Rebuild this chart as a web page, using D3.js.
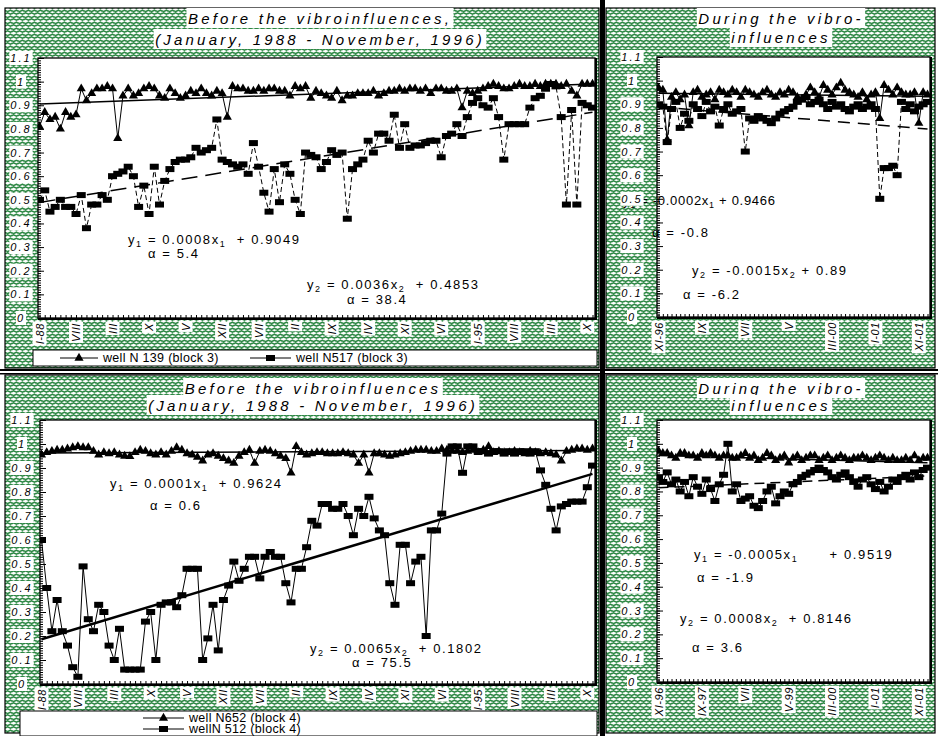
<!DOCTYPE html>
<html>
<head>
<meta charset="utf-8">
<script src="https://cdnjs.cloudflare.com/ajax/libs/d3/7.8.5/d3.min.js"></script>
<style>
  body { margin: 0; background: #fff; }
  svg { display: block; }
  text { font-family: "Liberation Sans", Arial, sans-serif; fill: #000; white-space: pre; }
</style>
</head>
<body>
<svg id="chart" width="938" height="736"></svg>
<script>
// ---------- data ----------
const yTickValues = [0, 0.1, 0.2, 0.3, 0.4, 0.5, 0.6, 0.7, 0.8, 0.9, 1, 1.1];
const yTickLabels = ["0", "0.1", "0.2", "0.3", "0.4", "0.5", "0.6", "0.7", "0.8", "0.9", "1", "1.1"];

// monthly, January 1988 - November 1996 (label every 7 months)
const monthLabelsBefore = ["I-88", "VIII", "III", "X", "V", "XII", "VII", "II", "IX", "IV", "XI", "VI", "I-95", "VIII", "III", "X"];
// monthly, November 1996 onwards (label every 10 months)
const monthLabelsDuringTop = ["XI-96", "IX", "VII", "V", "III-00", "I-01", "XI-01"];
const monthLabelsDuringBottom = ["XI-96", "IX-97", "VII", "V-99", "III-00", "I-01", "XI-01"];

const legendBlock3 = ["well N 139 (block 3)", "well N517 (block 3)"];
const legendBlock4 = ["well N652 (block 4)", "wellN 512 (block 4)"];

const titleBeforeTop = ["Before the vibroinfluences,", "(January, 1988 - November, 1996)"];
const titleBeforeBottom = ["Before the vibroinfluences", "(January, 1988 - November, 1996)"];
const titleDuring = ["During the vibro-", "influences"];

// well N 139, block 3, before
const well139Before = [
  0.81,0.87,0.84,0.85,0.80,0.87,0.85,0.86,0.97,0.92,
  0.95,0.97,0.97,0.98,0.97,0.76,0.94,0.97,0.94,0.95,
  0.97,0.98,0.97,0.94,0.93,0.97,0.95,0.93,0.94,0.96,
  0.95,0.97,0.95,0.94,0.96,0.95,0.85,0.98,0.97,0.97,
  0.96,0.96,0.97,0.96,0.97,0.97,0.96,0.96,0.94,0.98,
  0.97,0.98,0.93,0.96,0.95,0.94,0.93,0.96,0.92,0.94,
  0.94,0.95,0.95,0.95,0.96,0.94,0.95,0.96,0.96,0.97,
  0.96,0.97,0.97,0.96,0.97,0.95,0.97,0.97,0.96,0.96,
  0.97,0.89,0.96,0.95,0.96,0.97,0.98,0.99,0.98,0.97,
  0.97,0.98,0.99,0.98,0.98,0.99,0.98,0.99,0.99,0.99,
  0.98,0.99,0.96,0.94,0.99,0.99,0.99
];
// well N517, block 3, before
const well517Before = [
  0.50,0.54,0.45,0.47,0.50,0.47,0.47,0.44,0.52,0.38,
  0.48,0.48,0.52,0.50,0.60,0.61,0.62,0.64,0.60,0.47,
  0.56,0.44,0.64,0.48,0.58,0.63,0.66,0.67,0.67,0.68,
  0.72,0.70,0.71,0.72,0.84,0.67,0.66,0.65,0.64,0.65,
  0.61,0.74,0.64,0.53,0.45,0.63,0.49,0.65,0.61,0.50,
  0.44,0.70,0.69,0.68,0.63,0.66,0.71,0.69,0.70,0.42,
  0.63,0.65,0.67,0.75,0.70,0.78,0.78,0.75,0.86,0.72,
  0.82,0.72,0.73,0.73,0.74,0.75,0.75,0.68,0.77,0.78,
  0.82,0.77,0.85,0.91,0.93,0.90,0.89,0.93,0.85,0.67,
  0.82,0.82,0.82,0.82,0.89,0.93,0.94,0.97,0.99,0.98,
  0.85,0.48,0.88,0.48,0.91,0.90,0.89
];
// well N652, block 4, before
const well652Before = [
  0.955,0.965,0.97,0.975,0.975,0.98,0.985,0.99,0.985,0.985,
  0.97,0.955,0.965,0.96,0.965,0.955,0.95,0.948,0.965,0.975,
  0.97,0.96,0.955,0.965,0.955,0.97,0.985,0.975,0.96,0.955,
  0.945,0.93,0.955,0.96,0.95,0.94,0.93,0.92,0.95,0.965,
  0.975,0.92,0.97,0.975,0.97,0.96,0.95,0.94,0.88,0.99,
  0.965,0.955,0.96,0.965,0.965,0.96,0.96,0.96,0.965,0.96,
  0.955,0.92,0.955,0.88,0.96,0.96,0.955,0.95,0.955,0.96,
  0.965,0.97,0.975,0.975,0.975,0.97,0.97,0.98,0.975,0.97,
  0.97,0.965,0.97,0.975,0.965,0.975,0.99,0.965,0.97,0.965,
  0.965,0.97,0.965,0.96,0.97,0.965,0.96,0.965,0.96,0.955,
  0.93,0.97,0.975,0.98,0.98,0.975,0.98
];
// well N 512, block 4, before
const well512Before = [
  0.60,0.40,0.22,0.35,0.22,0.16,0.07,0.03,0.49,0.27,
  0.22,0.33,0.30,0.16,0.10,0.23,0.06,0.06,0.06,0.06,
  0.26,0.30,0.10,0.33,0.34,0.34,0.32,0.37,0.48,0.48,
  0.48,0.10,0.19,0.33,0.14,0.35,0.41,0.51,0.43,0.48,
  0.53,0.53,0.44,0.53,0.55,0.53,0.53,0.42,0.34,0.48,
  0.48,0.57,0.68,0.66,0.75,0.75,0.73,0.73,0.75,0.70,
  0.62,0.73,0.70,0.78,0.69,0.64,0.62,0.42,0.33,0.58,
  0.58,0.42,0.51,0.53,0.20,0.64,0.64,0.71,0.96,0.99,
  0.99,0.88,0.99,0.99,0.97,0.97,0.96,0.97,0.97,0.96,
  0.97,0.96,0.97,0.97,0.96,0.97,0.89,0.83,0.73,0.64,
  0.74,0.75,0.76,0.76,0.76,0.82,0.91
];
// well N 139, block 3, during
const well139During = [
  0.97,0.96,0.75,0.93,0.95,0.92,0.94,0.81,0.95,0.96,
  0.93,0.94,0.95,0.92,0.96,0.95,0.94,0.96,0.95,0.93,
  0.96,0.95,0.94,0.93,0.95,0.96,0.94,0.93,0.95,0.94,
  0.96,0.95,0.93,0.92,0.94,0.97,0.95,0.93,0.98,0.96,
  0.94,0.97,0.99,0.96,0.95,0.94,0.93,0.95,0.92,0.94,
  0.95,0.84,0.98,0.96,0.94,0.97,0.95,0.94,0.94,0.95,
  0.82,0.95,0.94
];
// well N517, block 3, during
const well517During = [
  0.90,0.89,0.74,0.88,0.91,0.80,0.86,0.83,0.90,0.88,
  0.85,0.91,0.87,0.89,0.81,0.88,0.90,0.86,0.87,0.88,
  0.70,0.84,0.83,0.85,0.84,0.83,0.82,0.84,0.86,0.87,
  0.88,0.89,0.91,0.92,0.93,0.90,0.91,0.92,0.90,0.88,
  0.91,0.89,0.90,0.88,0.87,0.89,0.90,0.88,0.89,0.90,
  0.88,0.50,0.63,0.63,0.64,0.60,0.91,0.88,0.90,0.87,
  0.89,0.90,0.91
];
// well N652, block 4, during
const well652During = [
  0.97,0.96,0.96,0.95,0.94,0.96,0.96,0.95,0.95,0.94,
  0.96,0.95,0.96,0.95,0.94,0.95,0.95,0.94,0.94,0.95,
  0.96,0.94,0.95,0.93,0.94,0.96,0.95,0.93,0.94,0.95,
  0.92,0.94,0.95,0.93,0.94,0.95,0.95,0.93,0.94,0.95,
  0.93,0.94,0.95,0.94,0.93,0.94,0.94,0.95,0.94,0.93,
  0.94,0.95,0.94,0.93,0.94,0.93,0.93,0.94,0.93,0.95,
  0.93,0.94,0.94
];
// well N 512, block 4, during
const well512During = [
  0.86,0.84,0.88,0.83,0.85,0.80,0.84,0.78,0.86,0.82,
  0.79,0.85,0.81,0.76,0.83,0.87,1.00,0.80,0.83,0.76,
  0.77,0.78,0.74,0.73,0.76,0.80,0.82,0.75,0.78,0.80,
  0.79,0.83,0.84,0.86,0.87,0.88,0.89,0.90,0.89,0.88,
  0.86,0.85,0.87,0.88,0.86,0.84,0.82,0.85,0.86,0.83,
  0.81,0.84,0.80,0.82,0.85,0.84,0.86,0.87,0.85,0.88,
  0.86,0.89,0.90
];

// linear trends (y = slope * x + intercept, x = 1..n) and slope angles
const trend139Before = { slope: 0.0008, intercept: 0.9049, alpha: "5.4" };
const trend517Before = { slope: 0.0036, intercept: 0.4853, alpha: "38.4" };
const trend652Before = { slope: 0.0001, intercept: 0.9624, alpha: "0.6" };
const trend512Before = { slope: 0.0065, intercept: 0.1802, alpha: "75.5" };
const trend139During = { slope: -0.0002, intercept: 0.9466, alpha: "-0.8" };
const trend517During = { slope: -0.0015, intercept: 0.89, alpha: "-6.2" };
const trend652During = { slope: -0.0005, intercept: 0.9519, alpha: "-1.9" };
const trend512During = { slope: 0.0008, intercept: 0.8146, alpha: "3.6" };

// ---------- drawing ----------
const svg = d3.select("#chart");

// green woven background: offset rows of small waves
const defs = svg.append("defs");
const pat = defs.append("pattern").attr("id", "weave")
  .attr("patternUnits", "userSpaceOnUse").attr("width", 6).attr("height", 6);
pat.append("rect").attr("width", 6).attr("height", 6).attr("fill", "#ffffff");
pat.append("path")
  .attr("d", "M-1,2.2 L1.5,0.8 L4.5,2.2 L7,0.8 M-1,4.2 L1.5,5.6 L4.5,4.2 L7,5.6")
  .attr("fill", "none").attr("stroke", "#2c8743").attr("stroke-width", 1.5);

function boxedText(parent, x, y, str, o) {
  const g = parent.append("g").attr("transform", `translate(${x},${y}) rotate(${o.rotate || 0})`);
  const t = g.append("text")
    .attr("text-anchor", o.anchor || "middle")
    .attr("dominant-baseline", "central")
    .style("font-size", (o.size || 11) + "px")
    .style("font-style", o.italic ? "italic" : "normal")
    .style("letter-spacing", (o.spacing || 0) + "px")
    .text(str);
  const b = t.node().getBBox();
  const p = o.pad == null ? 1 : o.pad;
  g.insert("rect", "text").attr("x", b.x - p).attr("y", b.y - p)
    .attr("width", b.width + 2 * p).attr("height", b.height + 2 * p).attr("fill", "#fff");
  return g;
}

const EQ_SIZE = 13, EQ_SPACING = 1.6;

function equation(parent, x, y, sub, mid, tail, spacing) {
  const t = parent.append("text").attr("x", x).attr("y", y)
    .style("font-size", EQ_SIZE + "px").style("letter-spacing", (spacing == null ? EQ_SPACING : spacing) + "px");
  t.append("tspan").text("y");
  t.append("tspan").attr("dy", 3).style("font-size", "9px").text(sub);
  t.append("tspan").attr("dy", -3).text(mid);
  t.append("tspan").attr("dy", 3).style("font-size", "9px").text(sub);
  t.append("tspan").attr("dy", -3).text(tail);
}

function alphaText(parent, x, y, val) {
  parent.append("text").attr("x", x).attr("y", y)
    .style("font-size", EQ_SIZE + "px").style("letter-spacing", EQ_SPACING + "px")
    .text("\u03B1 = " + val);
}

function fmtCoef(v) {
  return (v < 0 ? "-" : "") + Math.abs(v).toFixed(4).replace(/0+$/, "").replace(/\.$/, "");
}

function drawPanel(cfg) {
  const g = svg.append("g");
  const [fx0, fy0, fx1, fy1] = cfg.frame;
  g.append("rect").attr("x", fx0).attr("y", fy0).attr("width", fx1 - fx0).attr("height", fy1 - fy0)
    .attr("fill", "url(#weave)").attr("stroke", "#000").attr("stroke-width", 1.2);

  const [px0, py0, px1, py1] = cfg.plot;
  const n = cfg.series[0].values.length;
  const x = d3.scaleLinear().domain([0, n - 1]).range([px0 + 1.5, px1 - 2.5]);
  const y = d3.scaleLinear().domain([0, 1.1]).range([py1, py0]);

  g.append("rect").attr("x", px0).attr("y", py0).attr("width", px1 - px0).attr("height", py1 - py0)
    .attr("fill", "#fff");

  const clipId = "clip" + cfg.id;
  defs.append("clipPath").attr("id", clipId).append("rect")
    .attr("x", px0).attr("y", py0 - 6).attr("width", px1 - px0 + 4).attr("height", py1 - py0 + 6);

  // minor and major value ticks, inside the plot
  const noDomain = s => s.select(".domain").remove();
  g.append("g").attr("transform", `translate(${px0},0)`).attr("color", "#000")
    .call(d3.axisRight(y).tickValues(d3.range(0, 111).map(i => i / 100)).tickSize(3).tickFormat(""))
    .call(noDomain);
  g.append("g").attr("transform", `translate(${px0},0)`).attr("color", "#000")
    .call(d3.axisRight(y).tickValues(yTickValues).tickSize(6).tickFormat(""))
    .call(noDomain);
  // monthly category ticks
  g.append("g").attr("transform", `translate(0,${py1})`).attr("color", "#000")
    .call(d3.axisTop(x).tickValues(d3.range(n)).tickSize(3).tickFormat(""))
    .call(noDomain);

  const body = g.append("g").attr("clip-path", `url(#${clipId})`);

  // trend lines
  cfg.series.forEach(s => {
    body.append("path")
      .attr("d", d3.line().x(i => x(i)).y(i => y(s.trend.slope * (i + 1) + s.trend.intercept))([0, n - 1]))
      .attr("fill", "none").attr("stroke", "#000")
      .attr("stroke-width", s.trendWidth).attr("stroke-dasharray", s.trendDash || null);
  });

  // series
  cfg.series.forEach(s => {
    body.append("path")
      .attr("d", d3.line().x((d, i) => x(i)).y(d => y(d))(s.values))
      .attr("fill", "none").attr("stroke", "#000").attr("stroke-width", 1)
      .attr("stroke-dasharray", s.lineDash || null);
    if (s.marker === "triangle") {
      body.append("g").selectAll("path").data(s.values).join("path")
        .attr("transform", (d, i) => `translate(${x(i)},${y(d)})`)
        .attr("d", d3.symbol(d3.symbolTriangle, 36)).attr("fill", "#000");
    } else {
      body.append("g").selectAll("rect").data(s.values).join("rect")
        .attr("x", (d, i) => x(i) - 4.5).attr("y", d => y(d) - 3)
        .attr("width", 9).attr("height", 6).attr("fill", "#000");
    }
  });

  // plot frame with heavier bottom/right edge
  g.append("rect").attr("x", px0).attr("y", py0).attr("width", px1 - px0).attr("height", py1 - py0)
    .attr("fill", "none").attr("stroke", "#000").attr("stroke-width", 1.3);
  g.append("path").attr("d", `M${px0},${py1 + 1} H${px1 + 1} V${py0}`)
    .attr("fill", "none").attr("stroke", "#000").attr("stroke-width", 2);

  // equations of the trend lines
  cfg.equations.forEach(e => {
    const t = e.trend;
    const gap = e.gap || " ";
    equation(g, e.x, e.y, e.sub, ` = ${fmtCoef(t.slope)}x`, `${gap}+ ${fmtCoef(t.intercept)}`, e.spacing);
    alphaText(g, e.ax, e.ay, t.alpha);
  });

  // value labels
  yTickValues.forEach((v, i) => {
    boxedText(g, px0 - cfg.yLabelOffset, y(v), yTickLabels[i], { size: 11, italic: true, spacing: 2 });
  });
  // month labels
  cfg.xLabels.forEach((lab, k) => {
    boxedText(g, x(k * cfg.xStep), py1 + 5, lab, { size: 11, italic: true, spacing: 0.6, rotate: -90, anchor: "end" });
  });

  // title
  cfg.title.forEach((line, k) => {
    boxedText(g, cfg.titleX, cfg.titleY[k], line, { size: 15, italic: true, spacing: 3.2, pad: 1.5 });
  });

  if (cfg.legend) cfg.legend(g);
}

function legendItem(g, x0, x1, yy, marker, label) {
  g.append("line").attr("x1", x0).attr("x2", x1).attr("y1", yy).attr("y2", yy)
    .attr("stroke", "#000").attr("stroke-width", 1);
  const cx = (x0 + x1) / 2;
  if (marker === "triangle") {
    g.append("path").attr("transform", `translate(${cx},${yy})`)
      .attr("d", d3.symbol(d3.symbolTriangle, 36)).attr("fill", "#000");
  } else {
    g.append("rect").attr("x", cx - 4.5).attr("y", yy - 3).attr("width", 9).attr("height", 6).attr("fill", "#000");
  }
  g.append("text").attr("x", x1 + 5).attr("y", yy).attr("dominant-baseline", "central")
    .style("font-size", "12.5px").style("letter-spacing", "0.3px").text(label);
}

// top left: block 3, before
drawPanel({
  id: "tl", frame: [5, 8, 599, 368], plot: [38, 58, 595, 318],
  series: [
    { values: well139Before, marker: "triangle", trend: trend139Before, trendWidth: 1.5 },
    { values: well517Before, marker: "square", trend: trend517Before, trendWidth: 1.5,
      trendDash: "16,8", lineDash: "5,3" }
  ],
  equations: [
    { trend: trend139Before, sub: "1", gap: "  ", x: 128, y: 244, ax: 148, ay: 258 },
    { trend: trend517Before, sub: "2", gap: "  ", x: 307, y: 289, ax: 347, ay: 304 }
  ],
  yLabelOffset: 17, xLabels: monthLabelsBefore, xStep: 7,
  title: titleBeforeTop, titleX: 320, titleY: [18, 39],
  legend: g => {
    g.append("rect").attr("x", 33).attr("y", 350).attr("width", 564).attr("height", 16)
      .attr("fill", "#fff").attr("stroke", "#000").attr("stroke-width", 1);
    legendItem(g, 60, 98, 358, "triangle", legendBlock3[0]);
    legendItem(g, 250, 291, 358, "square", legendBlock3[1]);
  }
});

// top right: block 3, during
drawPanel({
  id: "tr", frame: [606, 8, 935, 368], plot: [657, 57, 930, 317],
  series: [
    { values: well139During, marker: "triangle", trend: trend139During, trendWidth: 1.5 },
    { values: well517During, marker: "square", trend: trend517During, trendWidth: 1.5,
      trendDash: "12,8", lineDash: "5,3" }
  ],
  equations: [
    { trend: trend139During, sub: "1", spacing: 0.7, x: 623, y: 205, ax: 652, ay: 237 },
    { trend: trend517During, sub: "2", x: 692, y: 275, ax: 683, ay: 299 }
  ],
  yLabelOffset: 25, xLabels: monthLabelsDuringTop, xStep: 10,
  title: titleDuring, titleX: 781, titleY: [18, 37]
});

// bottom left: block 4, before
drawPanel({
  id: "bl", frame: [5, 375, 599, 733], plot: [40, 420, 595, 684],
  series: [
    { values: well652Before, marker: "triangle", trend: trend652Before, trendWidth: 1.5 },
    { values: well512Before, marker: "square", trend: trend512Before, trendWidth: 2.5 }
  ],
  equations: [
    { trend: trend652Before, sub: "1", gap: "  ", x: 110, y: 488, ax: 150, ay: 510 },
    { trend: trend512Before, sub: "2", gap: "  ", x: 310, y: 653, ax: 352, ay: 667 }
  ],
  yLabelOffset: 18, xLabels: monthLabelsBefore, xStep: 7,
  title: titleBeforeBottom, titleX: 313, titleY: [388, 405],
  legend: g => {
    g.append("rect").attr("x", 20).attr("y", 711).attr("width", 577).attr("height", 25)
      .attr("fill", "#fff").attr("stroke", "#000").attr("stroke-width", 1);
    legendItem(g, 143, 184, 718, "triangle", legendBlock4[0]);
    legendItem(g, 143, 184, 729, "square", legendBlock4[1]);
  }
});

// bottom right: block 4, during
drawPanel({
  id: "br", frame: [606, 375, 935, 733], plot: [657, 420, 930, 682],
  series: [
    { values: well652During, marker: "triangle", trend: trend652During, trendWidth: 1.5 },
    { values: well512During, marker: "square", trend: trend512During, trendWidth: 1.5, trendDash: "10,6" }
  ],
  equations: [
    { trend: trend652During, sub: "1", gap: "      ", x: 694, y: 559, ax: 697, ay: 582 },
    { trend: trend512During, sub: "2", gap: "  ", x: 680, y: 623, ax: 692, ay: 652 }
  ],
  yLabelOffset: 25, xLabels: monthLabelsDuringBottom, xStep: 10,
  title: titleDuring, titleX: 781, titleY: [388, 405]
});

// heavy separators between the four charts
svg.append("rect").attr("x", 600).attr("y", 0).attr("width", 5).attr("height", 736).attr("fill", "#000");
svg.append("rect").attr("x", 0).attr("y", 369).attr("width", 938).attr("height", 2).attr("fill", "#000");
svg.append("rect").attr("x", 0).attr("y", 373).attr("width", 938).attr("height", 1.5).attr("fill", "#000");
</script>
</body>
</html>
